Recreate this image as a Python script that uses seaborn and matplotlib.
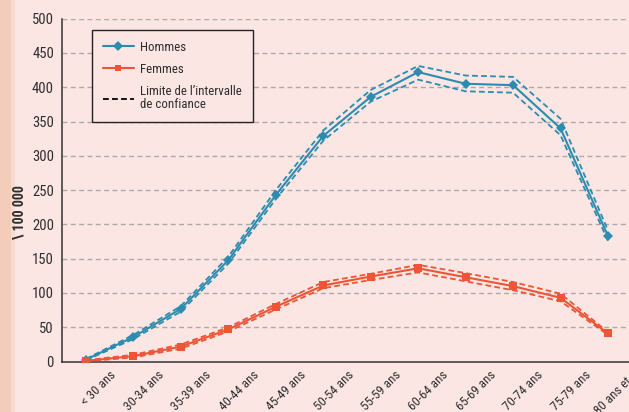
import numpy as np
import pandas as pd
import matplotlib
matplotlib.use("Agg")
import matplotlib.pyplot as plt
import seaborn as sns
from matplotlib.lines import Line2D
from matplotlib.patches import Rectangle
from matplotlib import font_manager as fm

categories = ["< 30 ans", "30-34 ans", "35-39 ans", "40-44 ans", "45-49 ans", "50-54 ans",
              "55-59 ans", "60-64 ans", "65-69 ans", "70-74 ans", "75-79 ans", "80 ans et +"]
hommes = [3, 36, 77, 148, 243, 329, 386, 422, 405, 403, 340, 183]
hommes_sup = [4, 39, 81, 153, 250, 337, 396, 431, 417, 415, 354, 191]
hommes_inf = [2, 33, 73, 143, 237, 322, 379, 411, 394, 392, 330, 176]
femmes = [1, 8, 22, 47, 80, 111, 124, 136, 123, 110, 93, 41]
femmes_sup = [2, 10, 25, 50, 84, 116, 128, 141, 129, 116, 99, 43]
femmes_inf = [0.5, 6, 19, 44, 76, 107, 119, 130, 117, 104, 88, 39]
yticks = [0, 50, 100, 150, 200, 250, 300, 350, 400, 450, 500]
ylabel = "\\ 100 000"
legend_labels = ["Hommes", "Femmes", "Limite de l\u2019intervalle\nde confiance"]

sns.set_theme(style="white")
names = {f.name for f in fm.fontManager.ttflist}
fam = [n for n in ["Liberation Sans Narrow", "Roboto Condensed", "Open Sans Condensed"] if n in names]
plt.rcParams["font.family"] = fam + ["DejaVu Sans"]
plt.rcParams["font.stretch"] = "condensed"

BG = "#FBE6E4"
BLUE = "#2B8CB0"
RED = "#EE5536"
TXT = "#2E2E2E"

W, H = 629, 412
fig = plt.figure(figsize=(W / 100, H / 100), dpi=100, facecolor=BG)
fig.patches.append(Rectangle((0, 0), 11 / W, 1, transform=fig.transFigure,
                             facecolor="#F3CDBA", edgecolor="none", zorder=0))
fig.patches.append(Rectangle((11 / W, 0), 4 / W, 1, transform=fig.transFigure,
                             facecolor="#F7DBCF", edgecolor="none", zorder=0))

left, right = 62.3, 631.7
top, bottom = 18.6, 361.6
ax = fig.add_axes([left / W, (H - bottom) / H, (right - left) / W, (bottom - top) / H])
ax.set_facecolor(BG)

x = np.arange(len(categories)) + 0.5
df = pd.DataFrame({"x": x, "h": hommes, "hs": hommes_sup, "hi": hommes_inf,
                   "f": femmes, "fs": femmes_sup, "fi": femmes_inf})

dash = (3.2, 1.8)
for col, c in [("hs", BLUE), ("hi", BLUE), ("fs", RED), ("fi", RED)]:
    sns.lineplot(data=df, x="x", y=col, ax=ax, color=c, lw=1.3, zorder=3)
    ax.lines[-1].set_dashes(dash)
sns.lineplot(data=df, x="x", y="h", ax=ax, color=BLUE, lw=1.5, marker="D",
             markersize=5, markeredgewidth=0, zorder=4)
sns.lineplot(data=df, x="x", y="f", ax=ax, color=RED, lw=1.5, marker="s",
             markersize=6, markeredgewidth=0, zorder=4)

ax.set_xlim(0, len(categories))
ax.set_ylim(0, 500)
ax.set_yticks(yticks)
ax.set_yticklabels([str(v) for v in yticks], fontsize=10.5, color=TXT)
ax.set_xticks(np.arange(len(categories) + 1))
ax.set_xticklabels([""] + categories, rotation=45, ha="right", va="top",
                   rotation_mode="anchor", fontsize=9.3, color=TXT)
ax.tick_params(axis="both", direction="out", length=4, width=1, color="#333333", pad=2)
ax.tick_params(axis="x", pad=1)
ax.set_xlabel("")
ax.set_ylabel("")

for v in yticks[1:]:
    ax.axhline(v, color="#A9A9A9", lw=1, ls=(0, (3.5, 2.5)), zorder=1)

for s in ["top", "right"]:
    ax.spines[s].set_visible(False)
for s in ["left", "bottom"]:
    ax.spines[s].set_color("#333333")
    ax.spines[s].set_linewidth(1.1)

fig.text(20 / W, 1 - 212 / H, ylabel, rotation=90, ha="center", va="center",
         fontsize=10, color=TXT, fontweight="bold")

handles = [Line2D([], [], color=BLUE, lw=1.5, marker="D", markersize=5, markeredgewidth=0),
           Line2D([], [], color=RED, lw=1.5, marker="s", markersize=5, markeredgewidth=0),
           Line2D([], [], color="black", lw=1.3, ls=(0, (3.2, 1.8)))]
leg = ax.legend(handles, legend_labels, loc="upper left",
                bbox_to_anchor=((92 - left) / (right - left), (bottom - 30) / (bottom - top)),
                borderaxespad=0, frameon=True, fancybox=False, facecolor=BG,
                edgecolor="#222222", framealpha=1, fontsize=9.3, handlelength=2.4,
                handletextpad=0.45, labelspacing=0.7, borderpad=0.85)
leg.get_frame().set_linewidth(1.0)
for t in leg.get_texts():
    t.set_color(TXT)
    t.set_linespacing(1.0)

fig.savefig("out.png", dpi=100, facecolor=BG)
